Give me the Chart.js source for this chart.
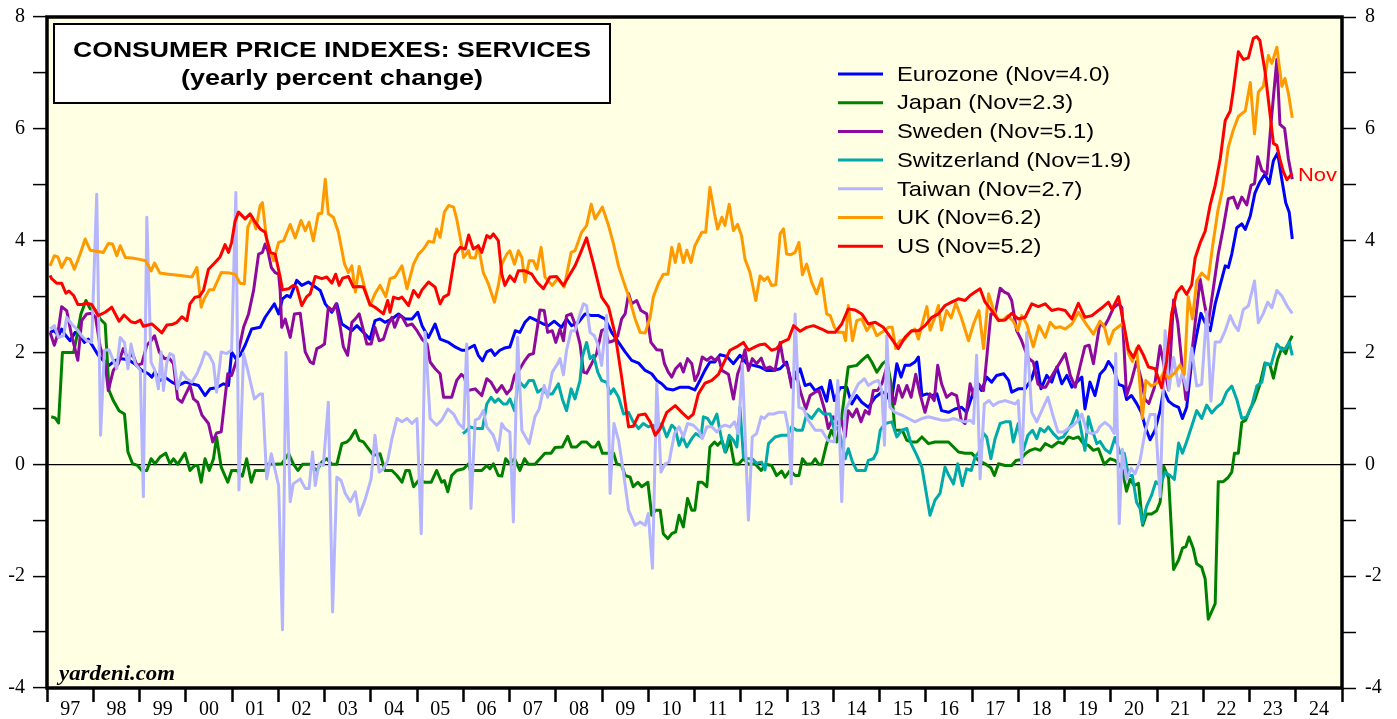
<!DOCTYPE html>
<html>
<head>
<meta charset="utf-8">
<script src="https://cdn.jsdelivr.net/npm/chart.js@4.4.0/dist/chart.umd.min.js"></script>
<style>
  html, body { margin: 0; padding: 0; background: #fff; }
  #wrap { width: 1397px; height: 719px; }
</style>
</head>
<body>
<div id="wrap"><canvas id="cpi" width="1397" height="719"></canvas></div>
<script>
// [month since Jan 1997, yearly % change]
const eurozone = [[0.3,2.36],[1.4,2.39],[2.5,2.3],[3.3,2.42],[4.4,2.3],[5.5,2.21],[6.8,2.36],[8.1,2.3],[9.2,2.18],[10.2,2.24],[11.5,2.1],[12.8,1.95],[14.1,1.86],[15.6,1.77],[17.2,1.86],[18.9,1.89],[20.6,1.87],[22.2,1.8],[24.1,1.68],[25.8,1.62],[26.7,1.56],[27.5,1.65],[28.8,1.5],[30.1,1.56],[31.9,1.47],[33.6,1.41],[35.3,1.47],[37.1,1.44],[38.8,1.41],[40.5,1.23],[41.8,1.35],[43.5,1.37],[45.3,1.44],[46.6,1.41],[47.4,2.01],[48.5,1.89],[49.6,1.95],[50.9,2.13],[52.6,2.42],[54.8,2.45],
  [56.1,2.63],[57.4,2.76],[58.5,2.87],[59.6,2.69],[60.6,2.96],[61.7,3.02],[62.6,2.99],[64.3,3.29],[65.6,3.2],[67.3,3.26],[69.1,3.17],[70.4,3.11],[71.7,2.87],[73.4,2.72],[74.7,2.87],[76.0,2.51],[77.3,2.45],[78.6,2.39],[79.9,2.48],[81.6,2.36],[83.3,2.24],[84.6,2.57],[85.9,2.6],[87.2,2.54],[89.0,2.6],[90.7,2.69],[92.4,2.6],[94.2,2.6],[95.7,2.72],[96.8,2.48],[98.5,2.27],[100.2,2.51],[101.5,2.24],[103.7,2.18],[105.4,2.1],[107.1,2.04],
  [108.0,2.04],[110.4,2.13],[111.4,1.95],[112.5,1.85],[113.6,2.01],[114.7,2.05],[115.7,1.95],[117.0,2.04],[118.2,2.08],[119.6,2.1],[121.0,2.39],[122.2,2.36],[123.5,2.54],[124.8,2.63],[126.6,2.57],[128.3,2.51],[129.6,2.48],[131.1,2.56],[133.0,2.45],[134.3,2.6],[135.6,2.48],[137.4,2.54],[139.1,2.69],[140.8,2.66],[142.6,2.66],[144.3,2.6],[146.0,2.36],[147.8,2.18],[149.5,2.01],[151.2,1.86],[153.0,1.81],[154.7,1.68],[156.4,1.62],[157.7,1.5],[159.0,1.44],[160.3,1.35],[162.0,1.33],[163.8,1.38],
  [165.9,1.38],[167.6,1.33],[168.9,1.5],[170.2,1.68],[171.5,1.83],[172.8,1.83],[174.1,1.96],[175.9,1.93],[177.6,1.8],[179.3,1.95],[181.1,1.8],[182.8,1.77],[184.5,1.74],[186.2,1.68],[188.0,1.68],[189.7,1.71],[191.4,1.83],[192.7,1.44],[194.9,1.71],[196.2,1.41],[197.5,1.44],[198.8,1.32],[200.5,1.38],[201.8,1.13],[202.7,1.5],[203.8,1.14],[205.3,1.37],[207.0,1.38],[208.3,1.08],[209.6,1.23],[210.9,1.11],[212.6,1.02],[214.4,1.2],[216.1,1.29],[217.4,1.26],
  [218.5,1.08],[220.0,1.8],[221.1,1.56],[222.1,1.77],[223.4,1.77],[224.7,1.83],[225.6,1.92],[226.5,1.23],[227.8,1.26],[229.1,1.23],[230.4,1.26],[231.6,0.96],[233.4,0.93],[235.1,0.99],[236.8,1.02],[238.1,0.93],[239.4,1.2],[240.7,1.44],[242.0,1.32],[243.3,1.56],[244.6,1.47],[245.9,1.59],[247.7,1.62],[249.0,1.5],[249.8,1.29],[251.5,1.35],[253.3,1.35],[255.0,1.53],[256.3,1.83],[257.4,1.35],[258.9,1.59],[260.2,1.47],[261.5,1.74],[262.8,1.44],[264.1,1.59],[265.4,1.38],[266.7,1.47],[268.0,1.56],[268.8,0.99],[270.1,1.47],[271.4,1.23],
  [272.7,1.61],[274.0,1.71],[274.9,1.84],[276.2,1.71],[277.5,1.43],[278.8,1.4],[279.6,1.16],[280.9,1.23],[282.2,1.09],[283.5,0.92],[284.4,0.68],[285.7,0.44],[287.0,0.61],[288.3,0.96],[289.2,1.33],[290.5,1.13],[291.8,1.06],[293.1,1.02],[294.1,0.82],[295.2,1.02],[296.5,1.84],[297.8,2.32],[298.9,2.7],[300.0,2.53],[301.3,2.39],[302.6,2.87],[303.9,3.21],[305.2,3.55],[306.0,3.52],[306.9,3.76],[308.2,4.23],[309.5,4.3],[310.4,4.2],[311.7,4.44],[312.9,4.85],[314.2,5.05],[315.5,5.19],[316.6,5.02],[317.7,5.43],[318.8,5.57],[319.9,5.09],[320.9,4.68],[321.8,4.51],[322.6,4.03]];

const japan = [[0.6,0.85],[1.6,0.83],[2.5,0.74],[3.5,2.0],[6.4,2.0],[7.2,2.27],[8.3,2.69],[9.6,2.93],[10.7,2.78],[12.0,2.76],[13.3,2.6],[14.6,2.51],[15.6,1.32],[16.7,1.14],[18.2,0.96],[19.6,0.9],[20.5,0.22],[21.7,0.01],[23.0,-0.02],[24.1,-0.11],[25.4,-0.11],[26.5,0.1],[27.5,0.01],[28.8,0.13],[30.3,0.2],[31.4,0.01],[32.3,0.1],[33.4,0],[35.3,0.2],[36.6,-0.11],[37.8,-0.02],[38.6,-0.02],[39.5,-0.32],[40.5,0.1],[41.6,-0.11],[42.7,0.1],[43.5,0.49],[44.7,-0.05],[46.4,-0.32],[47.4,-0.11],[48.7,-0.11],[50.2,-0.21],[51.3,0.1],[52.5,-0.32],[53.5,-0.11],
  [56.1,-0.11],[57.0,0.01],[58.7,0],[60.4,0.01],[62.2,0.19],[63.4,0.01],[64.6,-0.11],[65.8,0],[67.8,0],[69.5,-0.11],[70.8,0.04],[72.1,0.1],[73.4,0],[74.7,0],[76.0,0.37],[77.3,0.4],[78.2,0.46],[79.5,0.61],[80.5,0.43],[81.6,0.4],[82.9,0.28],[84.2,0.16],[85.9,0.19],[87.2,-0.11],[89.0,-0.11],[90.3,-0.2],[91.6,-0.32],[92.6,-0.11],[93.5,-0.11],[94.6,-0.4],[95.9,-0.29],[97.6,-0.32],[99.2,-0.32],[100.6,-0.11],[101.9,-0.32],[102.6,-0.29],[103.5,-0.49],[104.5,-0.2],[105.8,-0.11],[107.6,-0.08],[108.9,0.01],
  [109.3,-0.11],[112.3,-0.11],[113.6,-0.02],[114.4,-0.08],[115.3,0.01],[116.6,-0.2],[117.5,-0.21],[118.5,0.1],[119.6,0.01],[120.8,0.1],[122.2,-0.11],[123.4,0.1],[124.4,0],[126.1,0],[127.4,0.1],[128.7,0.2],[130.3,0.2],[131.3,0.3],[133.2,0.31],[134.6,0.5],[135.6,0.31],[136.9,0.31],[138.2,0.4],[139.5,0.4],[140.8,0.31],[141.7,0.31],[142.6,0.4],[143.6,0.2],[145.2,0.2],[146.5,0.2],[147.3,0.01],[148.6,-0.02],[149.5,-0.2],[150.8,-0.23],[151.6,-0.4],[152.8,-0.32],[153.8,-0.4],[155.4,-0.32],[156.4,-0.91],[157.4,-0.82],[158.6,-0.82],[159.4,-1.24],[160.6,-1.33],[161.6,-1.24],[162.6,-1.21],
  [163.5,-0.91],[164.6,-1.12],[165.7,-0.61],[166.8,-0.82],[167.6,-0.82],[168.5,-0.32],[169.5,-0.32],[170.7,-0.4],[171.5,0.31],[172.7,0.4],[173.5,0.34],[174.6,0.42],[175.6,0.22],[176.7,0.43],[177.8,0.01],[178.9,0],[180.2,0.1],[181.5,0],[183.2,0.01],[184.8,-0.11],[186.0,0],[187.5,-0.02],[188.8,-0.2],[190.1,-0.12],[191.0,-0.23],[192.3,-0.11],[193.6,-0.2],[194.6,-0.2],[195.5,0.1],[196.6,0],[197.9,0.01],[198.8,0.1],[199.7,0],[200.5,0],[201.8,0.37],[203.0,0.61],[204.4,0.4],[205.7,0.85],[207.4,1.74],[209.6,1.77],[210.9,1.86],[212.4,1.95],[213.5,1.83],[214.8,1.65],[216.3,1.8],[217.4,1.86],
  [218.5,1.44],[219.5,0.61],[220.4,0.61],[221.4,0.61],[222.6,0.43],[223.9,0.4],[225.2,0.4],[226.5,0.49],[228.2,0.37],[229.9,0.4],[231.6,0.4],[233.4,0.4],[234.7,0.31],[236.0,0.22],[237.7,0.2],[239.4,0.2],[241.2,0.07],[242.9,0.01],[244.4,-0.06],[245.3,-0.2],[246.4,0.01],[248.1,-0.02],[249.8,-0.02],[250.9,0.07],[252.0,0.08],[253.3,0.19],[254.6,0.25],[255.9,0.28],[257.2,0.25],[258.5,0.37],[260.2,0.31],[261.9,0.4],[263.2,0.37],[264.5,0.49],[265.8,0.46],[267.1,0.49],[268.4,0.37],[269.7,0.34],[271.0,0.25],[272.3,0.28],
  [273.8,0],[275.3,0.1],[276.6,0.07],[277.7,0],[278.5,-0.1],[279.6,-0.48],[280.5,-0.27],[281.6,-0.38],[282.7,-0.34],[283.8,-1.09],[284.8,-0.89],[286.1,-0.89],[287.4,-0.83],[288.3,-0.68],[289.2,-0.03],[290.5,-0.24],[291.8,-1.88],[293.1,-1.71],[294.1,-1.5],[295.0,-1.47],[295.8,-1.3],[296.9,-1.5],[297.8,-1.78],[299.1,-1.84],[300.0,-2.05],[300.8,-2.77],[301.7,-2.63],[302.6,-2.49],[303.4,-0.31],[304.7,-0.31],[305.9,-0.24],[306.9,-0.14],[307.6,0.2],[308.6,0.2],[309.5,0.75],[310.5,0.79],[311.7,0.99],[312.9,1.16],[314.2,1.43],[315.5,1.81],[316.8,1.78],[317.7,1.54],[318.8,1.88],[319.9,2.08],[320.9,1.98],[321.8,2.19],[322.6,2.3]];

const sweden = [[0.3,2.36],[1.4,2.13],[2.3,2.33],[3.3,2.82],[4.6,2.75],[5.9,2.3],[7.5,1.86],[8.5,2.57],[9.8,2.69],[11.1,2.7],[12.1,2.63],[13.3,2.1],[14.6,1.8],[15.4,1.32],[16.7,1.68],[18.0,1.8],[19.3,2.07],[20.5,1.89],[21.7,1.98],[22.8,1.77],[24.1,1.8],[25.4,2.13],[26.5,2.21],[27.4,2.3],[28.6,2.01],[30.0,1.89],[31.2,1.9],[32.3,1.8],[33.4,1.17],[34.5,1.11],[35.3,1.23],[36.6,1.41],[37.5,1.17],[38.6,1.11],[39.7,0.88],[41.4,0.73],[42.5,0.4],[43.5,0.56],[44.7,0.58],[46.4,1.62],[47.4,1.59],[48.7,1.86],[50.5,2.45],[51.8,2.69],[53.1,3.11],
  [54.4,3.76],[55.4,3.79],[56.1,3.94],[56.8,3.82],[57.7,3.52],[58.7,3.43],[59.6,3.4],[60.0,3.11],[60.4,2.45],[61.3,2.6],[62.6,2.27],[63.7,2.69],[65.2,2.7],[66.5,2.01],[67.8,1.83],[68.6,1.8],[69.5,2.07],[70.4,2.1],[71.5,2.15],[72.5,2.81],[73.6,2.75],[74.5,2.87],[75.6,2.45],[76.4,2.1],[77.5,1.95],[78.6,2.54],[79.5,2.6],[80.5,2.69],[81.4,2.45],[82.5,2.15],[83.6,2.15],[84.6,2.45],[85.7,2.21],[86.8,2.24],[87.9,2.48],[89.0,2.63],[89.7,2.45],[90.9,2.66],[91.7,2.63],[92.9,2.48],[94.2,2.51],[95.5,2.39],[96.8,2.24],[98.1,2.15],[98.9,1.83],[100.2,1.71],[101.5,1.62],[102.4,1.2],[104.5,1.2],[105.8,1.5],[107.0,1.61],[107.8,1.56],[108.7,1.32],
  [110.6,1.35],[112.3,1.23],[113.6,1.53],[114.7,1.47],[116.2,1.29],[117.5,1.41],[118.8,1.26],[119.9,1.35],[120.8,1.59],[122.2,1.71],[123.5,1.86],[124.6,1.96],[125.7,1.98],[126.6,2.39],[127.4,2.76],[128.5,2.75],[129.4,2.36],[130.6,2.39],[131.5,2.18],[132.6,2.42],[133.5,2.21],[134.3,2.66],[135.5,2.69],[136.5,2.51],[137.8,2.15],[138.7,1.65],[139.5,1.63],[140.8,1.8],[142.1,1.98],[143.4,2.39],[144.3,2.42],[145.2,2.18],[146.5,2.21],[147.6,2.3],[148.6,2.6],[149.5,2.69],[150.4,3.05],[151.2,2.87],[152.5,2.93],[153.6,2.75],[155.1,2.69],[156.2,2.18],[157.7,2.05],[159.0,2.04],[159.7,1.8],[160.7,1.65],[161.6,1.56],[162.6,1.71],[163.8,1.8],
  [164.6,1.65],[165.7,1.89],[166.8,1.8],[167.6,1.5],[168.5,1.62],[169.5,1.92],[170.7,1.86],[171.8,1.92],[172.8,1.86],[173.7,1.92],[174.6,1.68],[176.3,1.61],[177.6,1.17],[178.7,1.62],[179.7,1.8],[180.6,2.05],[181.5,1.68],[182.5,1.89],[183.6,1.8],[184.8,1.9],[185.8,1.71],[187.1,1.74],[188.4,1.68],[189.7,2.18],[190.6,1.83],[191.7,1.74],[192.7,1.38],[193.8,1.65],[194.9,1.32],[196.4,0.99],[197.5,1.23],[198.8,1.29],[199.8,1.32],[201.2,0.99],[202.2,0.64],[203.5,0.85],[204.7,0.73],[205.7,0.79],[206.6,0.49],[207.4,0.96],[208.5,0.85],[209.6,0.99],[210.7,0.76],[211.8,0.96],[212.8,0.9],[213.9,1.32],[215.0,1.32],[216.1,1.44],[217.4,1.74],
  [218.2,1.38],[219.4,1.08],[220.4,1.41],[221.4,1.2],[222.6,1.41],[223.7,1.2],[224.9,1.61],[226.0,1.26],[227.3,0.93],[228.6,1.26],[229.7,1.14],[230.6,1.77],[231.6,1.44],[232.9,1.2],[234.2,1.27],[235.5,1.23],[236.7,0.79],[237.7,0.73],[239.0,1.44],[240.1,1.2],[241.2,1.44],[242.5,1.32],[243.3,1.89],[244.4,2.69],[245.5,2.69],[246.8,3.15],[247.9,3.08],[248.9,3.05],[249.8,2.93],[251.1,2.39],[252.2,2.24],[253.3,2.04],[254.3,1.89],[255.4,1.83],[256.6,1.44],[257.6,1.38],[258.6,1.38],[259.8,1.53],[261.1,1.68],[262.4,1.83],[263.7,1.98],[265.0,1.59],[266.3,1.38],[267.5,1.74],[268.8,2.11],[269.9,2.13],[271.0,1.8],
  [272.7,2.53],[273.8,2.46],[274.9,2.6],[276.2,2.8],[277.5,2.87],[278.4,2.8],[279.6,1.23],[280.9,1.5],[282.2,1.84],[283.5,1.5],[284.4,1.16],[285.4,1.09],[286.8,1.37],[288.3,2.12],[289.6,1.67],[290.5,1.33],[291.8,2.94],[292.9,2.53],[294.1,1.71],[295.0,1.16],[296.1,1.71],[297.4,2.53],[298.7,3.31],[299.8,2.87],[300.8,2.53],[302.1,3.14],[303.4,3.76],[304.7,4.23],[306.0,4.75],[307.3,4.78],[308.4,4.58],[309.5,4.78],[310.8,4.64],[311.9,4.99],[312.8,5.02],[313.6,5.5],[314.7,5.26],[316.0,5.19],[317.1,6.11],[318.6,7.24],[319.4,6.08],[320.6,6.01],[321.6,5.46],[322.6,5.1]];

const switzerland = [[107.4,0.55],[108.0,0.58],[109.3,0.67],[110.6,0.64],[112.5,0.64],[113.6,1.08],[114.7,1.2],[115.7,1.11],[116.6,1.17],[117.9,1.08],[118.8,1.08],[119.6,1.17],[120.8,0.96],[121.8,1.5],[123.4,1.38],[124.6,1.5],[125.7,1.5],[126.8,1.29],[128.0,1.35],[129.2,1.26],[130.6,1.26],[132.2,1.44],[133.2,1.17],[134.3,0.96],[135.5,1.35],[136.5,1.17],[137.8,1.5],[138.4,1.92],[139.5,2.18],[140.4,1.89],[141.3,1.95],[142.4,1.65],[143.4,1.5],[144.7,1.47],[145.6,1.26],[146.5,1.35],[147.8,1.2],[149.1,0.9],[150.4,0.93],[151.6,0.76],[153.0,0.64],[154.2,0.73],[155.5,0.67],[156.8,0.7],[158.1,0.61],[159.0,0.73],[160.3,0.49],[161.6,0.7],[162.5,0.64],
  [163.5,0.34],[164.4,0.49],[165.5,0.31],[166.8,0.46],[167.8,0.55],[169.2,0.49],[169.8,0.85],[170.9,0.82],[172.0,0.7],[173.3,0.9],[174.4,0.49],[175.4,0.22],[176.5,0.52],[177.6,0.43],[178.5,0.31],[179.3,1.02],[180.2,0.13],[181.3,0.1],[182.5,0.1],[183.6,0.02],[184.9,0.04],[185.8,-0.1],[186.7,0.37],[188.4,0.49],[190.1,0.52],[191.7,0.52],[192.7,0.67],[194.0,0.61],[195.5,0.61],[196.6,0.9],[197.9,0.82],[199.7,0.99],[201.0,0.9],[202.7,0.9],[203.8,0.61],[204.8,0.67],[206.6,0.1],[207.4,0.28],[208.5,0.04],[209.6,-0.11],[211.8,-0.11],[212.6,0.07],[213.9,0.1],[214.8,0.22],[215.7,0.61],[217.0,0.73],
  [218.7,0.76],[220.0,0.49],[221.3,0.61],[222.6,0.64],[223.7,0.37],[225.2,0.16],[226.5,-0.05],[227.5,-0.46],[228.6,-0.91],[229.9,-0.64],[231.2,-0.52],[232.5,-0.05],[233.5,-0.2],[234.7,-0.35],[235.8,0.01],[237.0,-0.38],[238.1,-0.08],[239.3,-0.11],[240.3,0.13],[241.3,0.22],[242.5,0.55],[243.3,0.49],[244.4,0.1],[245.5,0.46],[246.8,0.73],[248.1,0.76],[249.4,0.76],[250.2,0.4],[251.5,0.73],[252.8,0.25],[254.0,0.52],[255.2,0.61],[256.3,0.46],[257.2,0.64],[258.3,0.58],[259.3,0.67],[260.6,0.55],[261.9,0.46],[263.2,0.49],[264.3,0.61],[265.4,0.73],[266.7,0.96],[267.5,0.73],[268.8,0.25],[269.7,0.85],[270.7,0.61],[271.9,0.37],
  [272.7,0.41],[274.0,0.27],[275.3,0.2],[276.6,0.48],[277.9,0.2],[279.0,0.2],[280.1,-0.2],[281.1,-0.2],[282.2,-0.68],[283.1,-0.79],[283.7,-1.06],[284.8,-0.75],[286.1,-0.55],[287.2,-0.31],[288.3,-0.38],[289.6,-0.14],[290.9,-0.2],[292.0,-0.27],[293.1,0.38],[294.1,0.2],[295.2,0.41],[296.5,0.68],[297.8,0.96],[299.1,0.82],[300.4,1.06],[301.7,0.92],[303.0,1.02],[304.3,1.09],[305.6,1.3],[306.9,1.4],[308.2,1.16],[309.5,0.82],[310.8,0.85],[312.1,1.06],[313.4,1.4],[314.7,1.47],[315.7,1.81],[317.1,1.78],[318.6,2.15],[319.9,2.05],[320.9,2.08],[321.8,2.19],[322.6,1.95]];

const taiwan = [[0.3,2.42],[1.4,2.48],[2.5,2.27],[3.8,2.3],[4.6,2.63],[5.9,2.51],[7.2,2.42],[8.5,2.3],[9.8,2.21],[11.1,2.18],[12.4,4.83],[13.4,0.52],[14.4,2.04],[15.6,2.05],[16.7,1.86],[17.6,1.71],[18.5,2.27],[19.6,2.18],[20.5,1.71],[21.3,2.15],[22.4,1.8],[23.7,1.68],[24.5,-0.58],[25.4,4.42],[26.5,1.83],[27.5,1.68],[28.4,1.35],[29.1,2.01],[29.7,1.32],[30.6,1.83],[31.4,1.98],[32.3,1.95],[33.4,1.35],[34.5,1.65],[35.8,1.53],[37.1,1.47],[38.4,1.62],[39.5,1.8],[40.5,2.01],[41.6,1.95],[42.7,1.8],[43.5,1.29],[44.7,2.01],[46.1,1.98],[47.4,2.04],[48.5,4.86],[49.3,-0.46],[50.5,1.98],[51.6,1.68],[53.3,1.17],[54.8,1.26],
  [55.4,1.26],[56.5,-0.26],[57.7,0.19],[58.7,-0.11],[59.6,-0.38],[60.6,-2.96],[61.5,2.0],[62.6,-0.67],[63.4,-0.35],[65.2,-0.26],[66.5,-0.43],[67.5,-0.43],[68.4,0.22],[69.1,-0.38],[70.1,0.01],[71.2,-0.02],[72.5,1.11],[73.6,-2.64],[74.7,-0.23],[75.8,-0.29],[76.9,-0.52],[78.2,-0.67],[79.5,-0.49],[80.5,-0.91],[82.0,-0.64],[83.6,-0.26],[84.6,0.52],[85.7,-0.14],[86.8,-0.08],[87.9,0.07],[89.0,0.46],[90.3,0.82],[91.6,0.76],[92.9,0.82],[94.2,0.73],[95.5,0.82],[96.6,-1.24],[97.6,2.36],[98.9,0.82],[100.6,0.7],[101.9,0.79],[103.5,0.99],[105.0,0.9],[106.3,0.73],[107.6,0.64],[108.4,2.15],[109.5,-0.79],
  [110.6,0.79],[111.6,0.82],[112.7,0.96],[113.6,0.67],[115.3,0.52],[116.6,0.25],[117.5,0.73],[118.3,0.64],[119.6,0.58],[120.5,-1.03],[121.6,2.27],[122.7,0.61],[124.6,0.37],[126.1,0.85],[127.2,0.99],[128.5,1.41],[129.4,1.2],[130.6,1.65],[132.0,1.8],[132.6,1.89],[133.5,1.6],[134.3,2.04],[135.5,2.39],[136.5,2.39],[137.8,2.69],[138.7,2.87],[139.5,2.84],[140.4,2.36],[141.5,2.3],[142.4,2.15],[143.4,1.77],[144.7,2.66],[145.6,-0.52],[146.6,0.73],[147.8,0.43],[149.0,-0.11],[150.4,-0.82],[152.1,-1.09],[153.4,-1.03],[154.7,-1.09],[155.5,-0.88],[156.6,-1.86],[157.7,1.44],[158.8,-0.14],[159.9,0.01],[160.9,0.04],[162.3,0.55],
  [163.5,0.67],[164.6,0.49],[165.7,0.73],[167.2,0.7],[168.5,0.61],[169.5,0.46],[170.7,0.67],[172.0,0.67],[173.3,0.58],[174.4,0.67],[175.4,0.7],[176.7,0.67],[177.9,0.76],[178.9,0.55],[179.9,1.8],[181.5,-1.0],[182.5,0.49],[183.6,0.55],[184.8,0.85],[185.6,0.82],[186.7,0.9],[188.0,0.9],[189.3,0.93],[191.0,0.93],[191.9,0.61],[192.6,-0.35],[193.6,2.69],[194.6,1.02],[195.8,0.99],[197.0,0.79],[198.8,0.61],[200.5,0.61],[202.1,0.43],[203.8,0.4],[204.7,1.5],[205.7,-0.67],[206.6,0.96],[208.3,1.2],[210.0,1.44],[211.6,1.53],[212.6,1.41],[213.9,1.47],[215.2,1.5],[216.1,1.32],[216.8,0.34],[217.4,2.3],
  [218.2,1.02],[219.5,0.93],[221.3,0.88],[223.0,0.82],[224.7,0.76],[226.5,0.82],[228.2,0.85],[229.9,0.82],[231.6,0.79],[233.4,0.79],[234.7,0.82],[236.0,0.79],[237.7,0.76],[239.0,0.79],[239.9,0.73],[240.7,1.95],[241.6,-0.26],[242.7,1.08],[243.9,1.14],[245.0,1.05],[246.4,1.11],[248.1,1.14],[249.4,1.11],[250.7,1.08],[251.5,1.14],[252.4,0.01],[253.7,2.36],[255.0,0.93],[256.3,0.76],[257.6,0.96],[259.2,1.2],[260.6,0.85],[261.8,0.58],[263.2,0.58],[264.5,0.64],[265.8,0.7],[267.1,0.79],[268.0,0.9],[269.3,0.58],[270.6,0.55],[271.9,0.58],
  [272.7,0.68],[274.0,0.75],[275.3,0.68],[276.4,0.55],[276.8,1.98],[277.7,-1.06],[278.5,0.27],[279.6,-0.27],[280.8,-0.07],[281.8,-0.17],[283.1,0.07],[284.4,0.58],[285.7,0.89],[287.0,0.89],[288.3,-0.58],[289.6,2.39],[290.6,1.33],[291.8,1.91],[293.1,1.4],[294.1,1.64],[295.2,1.33],[296.5,2.08],[297.8,1.4],[299.1,1.43],[300.4,2.73],[301.5,1.13],[302.6,2.19],[303.9,2.19],[305.2,2.39],[306.5,2.66],[307.6,2.49],[308.6,2.39],[309.9,2.77],[311.2,2.83],[312.8,3.28],[313.8,2.53],[315.1,2.7],[316.2,2.9],[317.3,2.8],[318.6,3.11],[319.9,3.01],[321.2,2.84],[322.6,2.7]];

const uk = [[0.3,3.55],[1.4,3.73],[2.3,3.71],[3.3,3.52],[4.6,3.69],[5.5,3.67],[6.6,3.49],[8.1,3.76],[9.4,4.03],[10.7,3.83],[12.4,3.81],[14.1,3.79],[15.4,3.95],[16.5,3.94],[17.6,3.73],[18.5,3.91],[19.8,3.7],[21.5,3.69],[23.2,3.67],[25.1,3.64],[26.5,3.46],[27.4,3.6],[28.8,3.42],[31.0,3.4],[33.6,3.38],[37.1,3.35],[38.4,3.52],[39.5,2.81],[40.3,2.96],[41.6,3.12],[42.7,3.12],[44.7,3.43],[47.0,3.42],[48.3,3.4],[49.6,3.24],[50.7,3.23],[51.6,4.24],[52.8,4.42],[53.7,4.21],[54.8,4.63],
  [55.4,4.68],[56.5,4.0],[58.3,3.64],[59.6,3.97],[60.9,4.0],[62.6,4.29],[63.9,4.05],[65.4,4.36],[66.5,4.18],[67.5,4.33],[68.6,4.0],[69.9,4.48],[70.8,4.49],[71.7,5.1],[72.5,4.48],[73.8,4.42],[75.1,4.15],[76.7,3.58],[77.7,3.43],[78.6,3.55],[79.5,3.08],[80.5,3.54],[82.0,3.14],[83.3,2.84],[84.6,3.05],[85.9,3.2],[87.4,3.0],[88.5,3.32],[89.8,3.35],[91.6,3.55],[92.9,3.14],[94.6,3.58],[95.9,3.76],[97.2,3.85],[98.5,3.99],[99.8,3.97],[100.6,4.21],[101.5,4.06],[102.6,4.51],[103.7,4.63],[105.0,4.6],[105.8,4.39],[106.7,4.06],[107.6,3.7],[108.9,3.82],
  [109.3,3.7],[110.6,3.69],[111.4,3.91],[112.7,3.43],[114.0,3.23],[115.6,2.9],[116.6,3.2],[117.5,3.58],[118.8,3.76],[119.6,3.82],[120.8,3.58],[121.8,3.82],[122.7,3.7],[123.5,3.26],[124.6,3.64],[125.7,3.64],[126.6,3.49],[127.7,3.88],[128.7,3.35],[130.6,3.2],[132.0,3.32],[133.7,3.17],[135.5,3.79],[136.5,3.82],[138.2,4.15],[139.5,4.27],[140.7,4.65],[141.7,4.39],[143.6,4.6],[145.2,4.27],[146.5,3.94],[147.8,3.54],[149.0,3.29],[150.5,2.99],[152.1,2.6],[153.4,2.36],[154.7,2.35],[156.0,2.63],[156.8,2.99],[158.1,3.23],[159.4,3.4],[160.6,3.4],[161.6,3.88],[162.5,3.61],
  [163.5,3.94],[164.6,3.61],[165.5,3.83],[166.6,3.61],[167.6,3.91],[169.4,4.15],[170.4,4.15],[171.5,4.95],[172.7,4.48],[173.5,4.21],[174.6,4.42],[175.4,4.27],[176.5,4.65],[177.6,4.18],[178.7,4.29],[179.7,4.09],[180.6,3.67],[181.9,3.43],[183.4,2.93],[184.5,3.37],[185.6,3.29],[186.5,3.35],[187.5,3.2],[188.6,3.21],[189.7,4.12],[190.6,4.21],[191.4,3.76],[192.5,3.75],[193.6,3.79],[194.6,3.97],[195.5,3.39],[196.6,3.58],[197.9,3.26],[199.2,3.05],[200.5,3.32],[201.8,2.69],[202.7,2.66],[203.8,2.45],[204.8,2.36],[206.1,2.36],[206.7,2.21],[207.4,2.84],[208.5,2.21],[209.6,2.57],[210.9,2.6],[212.2,2.39],[213.5,2.51],[214.8,2.3],[216.1,2.36],[217.8,2.45],
  [218.8,2.45],[219.7,2.07],[220.8,2.21],[222.1,2.24],[223.4,2.36],[224.7,2.42],[225.6,2.24],[226.6,2.51],[227.8,2.82],[228.6,2.4],[229.7,2.6],[230.8,2.84],[231.6,2.4],[232.9,2.75],[234.1,2.62],[235.3,2.88],[236.7,2.63],[238.6,2.21],[239.9,2.51],[241.3,2.75],[242.5,2.07],[243.8,3.05],[245.0,2.78],[246.2,2.6],[247.4,2.57],[248.8,2.66],[250.2,2.56],[251.4,2.39],[252.4,2.66],[253.7,2.51],[255.4,2.1],[256.9,2.48],[258.5,2.27],[259.8,2.54],[261.1,2.44],[262.4,2.46],[263.7,2.42],[265.4,2.51],[267.1,2.72],[268.8,2.54],[271.0,2.33],
  [272.7,2.56],[273.8,2.47],[275.0,2.15],[276.2,2.39],[277.5,2.46],[278.8,2.53],[280.1,1.98],[281.1,1.84],[282.2,2.08],[283.1,1.4],[283.7,0.82],[284.6,1.5],[286.1,1.4],[287.9,1.47],[289.2,1.64],[290.5,1.54],[292.2,1.64],[293.5,1.78],[294.6,1.61],[295.6,3.0],[296.7,2.6],[297.8,3.28],[299.1,3.42],[300.8,3.31],[301.9,3.89],[303.3,4.54],[304.5,4.92],[306.0,5.67],[307.3,5.98],[308.6,6.22],[310.4,6.32],[311.7,6.83],[312.8,5.91],[313.8,6.66],[315.1,6.76],[316.4,7.31],[317.3,7.17],[318.6,7.46],[319.9,6.76],[320.7,6.9],[321.6,6.63],[322.6,6.2]];

const us = [[0.3,3.38],[0.7,3.32],[2.0,3.24],[3.3,3.24],[4.4,3.06],[5.2,3.1],[6.4,3.02],[7.5,2.86],[8.5,2.86],[9.8,2.88],[11.1,2.86],[12.8,2.66],[14.6,2.72],[16.3,2.81],[18.2,2.56],[19.5,2.67],[21.3,2.55],[22.4,2.53],[23.7,2.58],[24.5,2.47],[26.7,2.51],[29.3,2.35],[30.6,2.49],[31.9,2.5],[33.2,2.54],[34.5,2.64],[35.8,2.57],[36.6,2.87],[37.9,2.99],[39.0,3.0],[40.1,3.11],[41.4,3.49],[43.1,3.61],[44.4,3.71],[45.7,3.93],[46.6,3.79],[47.4,3.97],[48.3,4.35],[49.2,4.51],[50.9,4.39],[52.2,4.48],[53.5,4.33],
  [54.8,4.21],[56.1,4.15],[57.4,3.79],[58.7,3.76],[60.0,3.35],[60.6,3.12],[62.2,3.14],[63.4,3.2],[64.3,3.17],[65.6,2.84],[66.9,3.0],[67.8,3.05],[69.1,3.36],[70.8,3.32],[72.1,3.35],[73.4,3.24],[74.4,3.4],[75.3,3.2],[76.2,3.33],[77.7,3.36],[79.0,3.17],[80.3,3.18],[81.6,3.17],[83.3,2.86],[84.6,2.81],[86.8,2.69],[87.9,2.93],[88.5,2.72],[89.4,2.99],[90.7,2.96],[91.6,2.99],[93.3,2.84],[94.6,3.11],[95.9,2.99],[96.8,3.12],[98.5,3.26],[100.2,3.17],[101.5,2.87],[102.4,2.99],[103.7,3.04],[105.4,3.76],[106.7,3.88],[108.0,3.85],[108.9,4.1],
  [110.1,3.85],[111.4,3.91],[112.3,3.79],[113.6,4.09],[114.5,4.05],[115.3,4.12],[116.6,4.0],[117.5,3.4],[118.3,3.2],[119.6,3.37],[120.8,3.27],[121.8,3.46],[123.5,3.46],[125.3,3.4],[126.6,3.26],[128.3,3.14],[130.0,3.35],[131.7,3.36],[133.5,3.2],[135.2,3.4],[136.5,3.55],[137.8,3.76],[139.5,4.05],[141.3,3.58],[143.4,2.99],[145.2,2.81],[146.9,2.33],[148.6,1.56],[150.4,0.67],[151.6,0.68],[153.0,0.88],[154.7,0.9],[156.0,0.76],[157.3,0.52],[158.6,0.64],[160.3,0.93],[162.5,1.05],
  [164.2,0.93],[165.9,0.82],[167.2,0.9],[168.5,1.26],[170.2,1.45],[172.0,1.5],[173.7,1.61],[175.4,1.86],[176.7,2.04],[178.4,2.1],[180.2,2.18],[181.5,2.04],[183.2,2.1],[184.5,2.14],[185.8,2.15],[187.5,2.04],[188.8,2.07],[190.1,2.18],[191.9,2.24],[193.2,2.48],[194.9,2.38],[196.6,2.45],[198.4,2.48],[200.5,2.42],[202.2,2.36],[204.0,2.36],[205.7,2.51],[207.4,2.78],[209.2,2.76],[210.9,2.69],[212.6,2.51],[214.4,2.54],[216.5,2.45],
  [218.7,2.24],[220.4,2.07],[222.1,2.27],[223.9,2.39],[225.6,2.39],[227.3,2.48],[229.1,2.63],[230.8,2.69],[232.5,2.84],[234.2,2.9],[236.0,2.96],[237.7,2.93],[239.0,3.02],[240.3,3.08],[241.6,3.14],[242.9,2.9],[244.6,2.75],[246.4,2.57],[248.1,2.58],[249.8,2.7],[251.5,2.6],[253.3,2.63],[255.0,2.87],[256.7,2.82],[258.5,2.87],[260.2,2.75],[261.9,2.78],[263.7,2.75],[265.4,2.6],[267.1,2.88],[268.8,2.63],[270.6,2.66],
  [273.2,2.8],[274.9,2.9],[275.8,2.77],[277.5,3.0],[278.8,2.53],[280.1,2.05],[281.4,1.91],[282.7,2.12],[284.0,1.95],[285.3,1.74],[287.0,1.71],[288.7,1.37],[290.0,1.84],[291.3,2.7],[292.6,3.07],[293.9,3.18],[295.2,3.04],[296.5,3.21],[297.4,3.69],[298.7,3.96],[300.0,4.17],[301.3,4.64],[302.6,4.99],[303.9,5.46],[305.2,6.15],[306.5,6.32],[307.3,6.69],[308.6,7.38],[309.9,7.24],[311.2,7.27],[312.5,7.62],[313.4,7.65],[314.2,7.58],[315.5,7.04],[316.8,6.28],[317.7,5.74],[318.6,5.7],[319.4,5.46],[320.3,5.23],[321.2,5.09],[322.6,5.2]];

const seriesNames = ['Eurozone', 'Japan', 'Sweden', 'Switzerland', 'Taiwan', 'UK', 'US'];
const novValues = ['4.0', '2.3', '5.1', '1.9', '2.7', '6.2', '5.2'];
const seriesData = [eurozone, japan, sweden, switzerland, taiwan, uk, us];
const seriesColors = ['#0000ff', '#008000', '#8e0a9e', '#00aaaa', '#b4b4ff', '#ff9900', '#ff0000'];
const yearLabels = ['97','98','99','00','01','02','03','04','05','06','07','08','09','10','11','12','13','14','15','16','17','18','19','20','21','22','23','24'];

const toPoints = arr => arr.map(([m, v]) => ({ x: 1997 + (m + 0.5) / 12, y: v }));

// draw text squeezed/stretched to a given width
function fitText(ctx, text, x, y, width, align) {
  const w = ctx.measureText(text).width;
  ctx.save();
  ctx.translate(x, y);
  ctx.scale(width / w, 1);
  ctx.textAlign = align;
  ctx.fillText(text, 0, 0);
  ctx.restore();
}

const decor = {
  id: 'decor',
  beforeDraw(chart) {
    const { ctx, chartArea: a } = chart;
    ctx.save();
    ctx.fillStyle = '#ffffff';
    ctx.fillRect(0, 0, chart.width, chart.height);
    ctx.fillStyle = '#ffffe3';
    ctx.fillRect(a.left, a.top, a.right - a.left, a.bottom - a.top);
    ctx.restore();
  },
  afterDatasetsDraw(chart) {
    const { ctx, chartArea: a } = chart;
    ctx.save();
    // frame
    ctx.strokeStyle = '#000';
    ctx.lineWidth = 3.5;
    ctx.strokeRect(a.left, a.top, a.right - a.left, a.bottom - a.top);

    // title box
    ctx.fillStyle = '#ffffff';
    ctx.fillRect(54, 24, 556, 79);
    ctx.lineWidth = 2;
    ctx.strokeRect(54, 24, 556, 79);
    ctx.fillStyle = '#000';
    ctx.textBaseline = 'alphabetic';
    ctx.font = 'bold 22px "Liberation Sans", Arial, sans-serif';
    fitText(ctx, 'CONSUMER PRICE INDEXES: SERVICES', 332, 57, 518, 'center');
    fitText(ctx, '(yearly percent change)', 332, 85, 302, 'center');

    // legend
    ctx.font = '21px "Liberation Sans", Arial, sans-serif';
    ctx.textBaseline = 'middle';
    const sx = 213 / ctx.measureText('Eurozone (Nov=4.0)').width;
    seriesNames.forEach((name, i) => {
      const y = 74 + i * 28.7;
      ctx.strokeStyle = seriesColors[i];
      ctx.lineWidth = 3;
      ctx.beginPath();
      ctx.moveTo(838, y);
      ctx.lineTo(883, y);
      ctx.stroke();
      const label = name + ' (Nov=' + novValues[i] + ')';
      ctx.fillStyle = '#000';
      fitText(ctx, label, 897, y + 1, ctx.measureText(label).width * sx, 'left');
    });

    // Nov marker
    ctx.fillStyle = '#ff0000';
    ctx.font = '19px "Liberation Sans", Arial, sans-serif';
    fitText(ctx, 'Nov', 1298, 176, 39, 'left');

    // source
    ctx.fillStyle = '#000';
    ctx.textBaseline = 'alphabetic';
    ctx.font = 'italic bold 20px "Liberation Serif", "Times New Roman", serif';
    fitText(ctx, 'yardeni.com', 59, 680, 116, 'left');
    ctx.restore();
  }
};

const tickFont = { family: '"Liberation Serif", "Times New Roman", serif', size: 20 };
// tight line height so the value labels do not push the plot down
const yTickFont = { family: '"Liberation Serif", "Times New Roman", serif', size: 20, lineHeight: 0.8 };

new Chart(document.getElementById('cpi'), {
  type: 'line',
  data: {
    datasets: seriesNames.map((name, i) => ({
      label: name,
      data: toPoints(seriesData[i]),
      borderColor: seriesColors[i],
      backgroundColor: seriesColors[i],
      borderWidth: 3,
      pointRadius: 0,
      tension: 0,
      borderJoinStyle: 'round',
      order: seriesNames.length - 1 - i
    }))
  },
  options: {
    responsive: false,
    animation: false,
    events: [],
    layout: { padding: { top: 16, left: 0, right: 0, bottom: 0 } },
    plugins: { legend: { display: false }, tooltip: { enabled: false } },
    scales: {
      x: {
        type: 'linear',
        min: 1997,
        max: 2025,
        afterFit: s => { s.height = 31; },
        afterBuildTicks: s => {
          const t = [];
          for (let i = 0; i <= 56; i++) t.push({ value: 1997 + i / 2 });
          s.ticks = t;
        },
        ticks: {
          autoSkip: false,
          maxRotation: 0,
          padding: -4,
          color: '#000',
          font: tickFont,
          callback: (v, i) => (i % 2 === 1 ? yearLabels[(i - 1) / 2] : '')
        },
        grid: {
          drawOnChartArea: false,
          tickLength: 14,
          tickWidth: 2.5,
          tickColor: c => (c.index % 2 === 0 ? '#000' : 'rgba(0,0,0,0)')
        },
        border: { display: false }
      },
      y: {
        position: 'left',
        min: -4,
        max: 8,
        afterFit: s => { s.width = 47; },
        ticks: {
          stepSize: 1,
          padding: 8,
          color: '#000',
          font: yTickFont,
          callback: v => (v % 2 === 0 ? String(v) : '')
        },
        grid: {
          drawOnChartArea: true,
          color: c => (c.tick && c.tick.value === 0 ? '#000' : 'rgba(0,0,0,0)'),
          lineWidth: 1.2,
          tickLength: 14,
          tickColor: '#000',
          tickWidth: 1.5
        },
        border: { display: false }
      },
      y2: {
        position: 'right',
        min: -4,
        max: 8,
        afterFit: s => { s.width = 55; },
        ticks: {
          stepSize: 1,
          padding: 9,
          color: '#000',
          font: yTickFont,
          callback: v => (v % 2 === 0 ? String(v) : '')
        },
        grid: {
          drawOnChartArea: false,
          tickLength: 14,
          tickColor: '#000',
          tickWidth: 1.5
        },
        border: { display: false }
      }
    }
  },
  plugins: [decor]
});
</script>
</body>
</html>
